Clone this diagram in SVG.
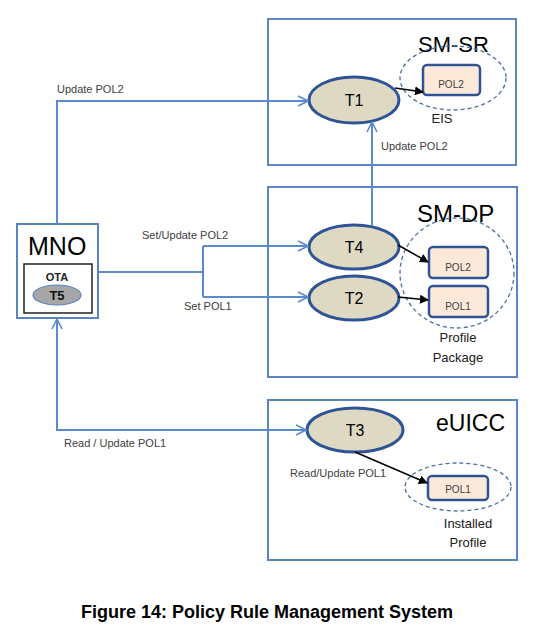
<svg xmlns="http://www.w3.org/2000/svg" width="556" height="635" viewBox="0 0 556 635">
<defs>
<marker id="open" viewBox="0 0 12 12" refX="11" refY="6" markerWidth="12" markerHeight="12" markerUnits="userSpaceOnUse" orient="auto-start-reverse">
<path d="M1,1 L11,6 L1,11" fill="none" stroke="#5b8ad0" stroke-width="1.6"/>
</marker>
<marker id="solid" viewBox="0 0 10 10" refX="9" refY="5" markerWidth="9" markerHeight="9" markerUnits="userSpaceOnUse" orient="auto">
<path d="M0,0 L10,5 L0,10 Z" fill="#000"/>
</marker>
<style>
.box{fill:#fff;stroke:#5b84c4;stroke-width:2}
.t{fill:#ddd9c3;stroke:#2f5496;stroke-width:3}
.pol{fill:#fde9d9;stroke:#2f5496;stroke-width:2.5}
.dash{fill:none;stroke:#4a6fa5;stroke-width:1.3;stroke-dasharray:4,3}
.ln{fill:none;stroke:#5b8ad0;stroke-width:2}
.bl{fill:none;stroke:#000;stroke-width:1.5}
.lbl{font-family:"Liberation Sans",Arial,sans-serif;font-size:11px;fill:#404040}
.big{font-family:"Liberation Sans",Arial,sans-serif;fill:#000}
.tt{font-family:"Liberation Sans",Arial,sans-serif;font-size:16px;fill:#000;text-anchor:middle}
.pt{font-family:"Liberation Sans",Arial,sans-serif;font-size:10px;fill:#404040;text-anchor:middle}
.cap{font-family:"Liberation Sans",Arial,sans-serif;font-size:13px;fill:#202020;text-anchor:middle}
</style>
</defs>
<rect width="556" height="635" fill="#fff"/>

<g id="sm-sr">
<rect class="box" x="268" y="19" width="248" height="146"/>
<text class="big" x="418" y="52" font-size="22">SM-SR</text>
<ellipse class="dash" cx="453" cy="78" rx="53" ry="32"/>
<rect class="pol" x="423" y="65" width="57" height="30" rx="4"/>
<text class="pt" x="451" y="88">POL2</text>
<text class="cap" x="442" y="123">EIS</text>
</g>
<g id="t1">
<ellipse class="t" cx="354" cy="100" rx="45" ry="23"/>
<text class="tt" x="354" y="106">T1</text>
</g>

<g id="sm-dp">
<rect class="box" x="268" y="187" width="249" height="190"/>
<text class="big" x="417" y="222" font-size="24">SM-DP</text>
<ellipse class="dash" cx="457" cy="273" rx="57" ry="55"/>
<rect class="pol" x="429" y="247" width="59" height="31" rx="4"/>
<text class="pt" x="458" y="271">POL2</text>
<rect class="pol" x="429" y="286" width="59" height="31" rx="4"/>
<text class="pt" x="458" y="310">POL1</text>
<text class="cap" x="458" y="342">Profile</text>
<text class="cap" x="458" y="362">Package</text>
</g>
<g id="t4">
<ellipse class="t" cx="354" cy="247" rx="45" ry="22"/>
<text class="tt" x="354" y="253">T4</text>
</g>
<g id="t2">
<ellipse class="t" cx="354" cy="298" rx="45" ry="22"/>
<text class="tt" x="354" y="304">T2</text>
</g>

<g id="euicc">
<rect class="box" x="268" y="400" width="249" height="160"/>
<text class="big" x="436" y="431" font-size="23">eUICC</text>
<ellipse class="dash" cx="458" cy="487" rx="53" ry="24"/>
<rect class="pol" x="428" y="476" width="60" height="24" rx="4"/>
<text class="pt" x="458" y="493">POL1</text>
<text class="cap" x="468" y="528">Installed</text>
<text class="cap" x="468" y="547">Profile</text>
</g>
<g id="t3">
<ellipse class="t" cx="355" cy="430" rx="48" ry="22"/>
<text class="tt" x="355" y="436">T3</text>
</g>

<g id="mno">
<rect class="box" x="17" y="224" width="81" height="94"/>
<text class="big" x="28" y="255" font-size="25">MNO</text>
<rect x="24" y="264" width="68" height="49" fill="#fff" stroke="#222" stroke-width="1.5"/>
<text x="57" y="281" font-family="Liberation Sans,Arial,sans-serif" font-size="11" font-weight="bold" fill="#222" text-anchor="middle">OTA</text>
<ellipse cx="57" cy="295" rx="24" ry="10" fill="#a6a6a6" stroke="#5b84c4" stroke-width="1.2"/>
<text x="57" y="300" font-family="Liberation Sans,Arial,sans-serif" font-size="13" font-weight="bold" fill="#111" text-anchor="middle">T5</text>
</g>

<g id="connectors">
<path class="ln" d="M57,224 V101 H308" marker-end="url(#open)"/>
<path class="ln" d="M372,226 V122" marker-end="url(#open)"/>
<path class="ln" d="M98,272 H203"/>
<path class="ln" d="M203,246 V297"/>
<path class="ln" d="M203,246 H308" marker-end="url(#open)"/>
<path class="ln" d="M203,297 H308" marker-end="url(#open)"/>
<path class="ln" d="M57,319 V430 H306" marker-start="url(#open)" marker-end="url(#open)"/>
<path class="bl" d="M395,88 L423,92" marker-end="url(#solid)"/>
<path class="bl" d="M398,245 L428,262" marker-end="url(#solid)"/>
<path class="bl" d="M398,297 L428,300" marker-end="url(#solid)"/>
<path class="bl" d="M355,452 L427,483" marker-end="url(#solid)"/>
<text class="lbl" x="57" y="93">Update POL2</text>
<text class="lbl" x="381" y="150">Update POL2</text>
<text class="lbl" x="142" y="239">Set/Update POL2</text>
<text class="lbl" x="184" y="310">Set POL1</text>
<text class="lbl" x="64" y="447">Read / Update POL1</text>
<text class="lbl" x="290" y="477">Read/Update POL1</text>
</g>

<text x="81" y="618" font-family="Liberation Sans,Arial,sans-serif" font-size="18" font-weight="bold" fill="#000">Figure 14: Policy Rule Management System</text>
</svg>
